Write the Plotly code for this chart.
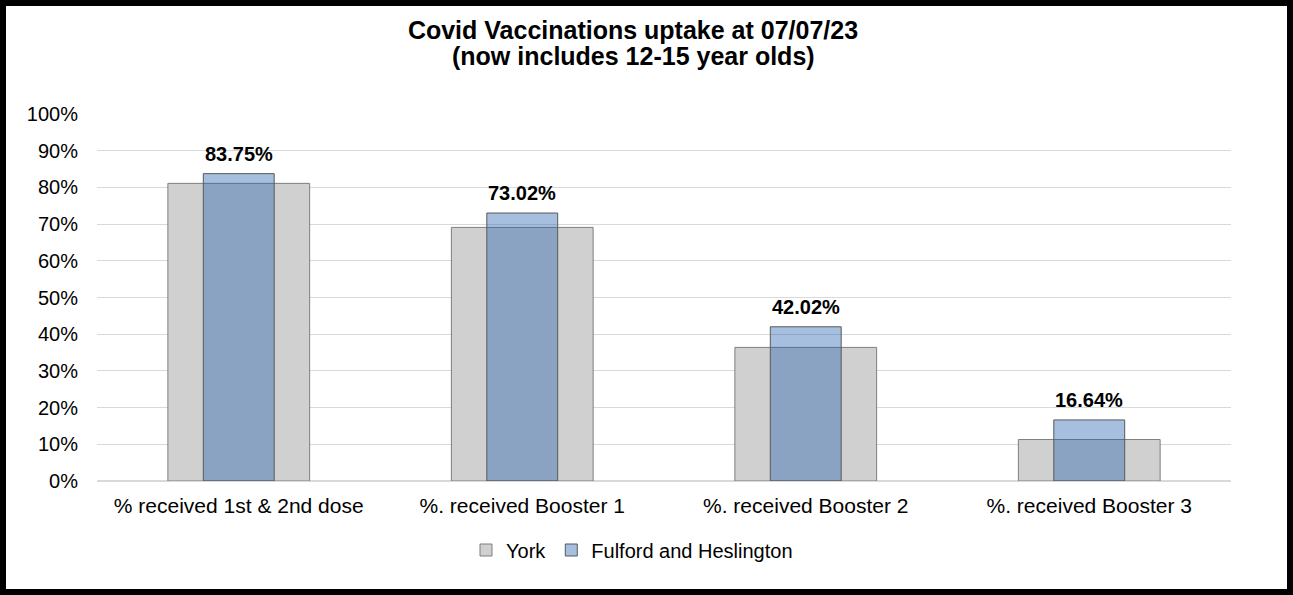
import plotly.graph_objects as go

categories = ["% received 1st & 2nd dose", "%. received Booster 1",
              "%. received Booster 2", "%. received Booster 3"]
york = [81.1, 69.1, 36.4, 11.3]
fulford = [83.75, 73.02, 42.02, 16.64]
fulford_labels = ["83.75%", "73.02%", "42.02%", "16.64%"]
y_ticks = list(range(0, 101, 10))
y_tick_labels = [f"{v}%" for v in y_ticks]
title_line1 = "Covid Vaccinations uptake at 07/07/23"
title_line2 = "(now includes 12-15 year olds)"

W, H = 1293, 595
ml, mr, mt, mb = 97, 62, 114, 114
pw, ph = W - ml - mr, H - mt - mb
title_cx = 633

fig = go.Figure()
fig.add_trace(go.Bar(
    x=categories, y=york, name="York", width=0.5,
    marker=dict(color="#d0d0d0", line=dict(color="#7f7f7f", width=1)),
    hoverinfo="skip",
))
fig.add_trace(go.Bar(
    x=categories, y=fulford, name="Fulford and Heslington", width=0.25,
    marker=dict(color="rgba(33,95,172,0.4)", line=dict(color="#595959", width=1)),
    hoverinfo="skip",
))

for c, v, t in zip(categories, fulford, fulford_labels):
    fig.add_annotation(x=c, y=v, xref="x", yref="y", text=f"<b>{t}</b>",
                       showarrow=False, yanchor="bottom", yshift=7,
                       font=dict(family="Liberation Sans, Arial", size=20, color="#000"))

# second title line
fig.add_annotation(x=(title_cx - ml) / pw, xref="paper", y=1 + (mt - 56) / ph, yref="paper",
                   xanchor="center", yanchor="middle", showarrow=False,
                   text=f"<b>{title_line2}</b>",
                   font=dict(family="Liberation Sans, Arial", size=25, color="#000"))

lw = 6
fig.add_shape(type="rect", xref="paper", yref="paper",
              x0=(-ml + lw / 2) / pw, x1=1 + (mr - lw / 2) / pw,
              y0=(-mb + lw / 2) / ph, y1=1 + (mt - lw / 2) / ph,
              line=dict(color="black", width=lw), fillcolor="rgba(0,0,0,0)")

fig.update_layout(
    width=W, height=H,
    margin=dict(l=ml, r=mr, t=mt, b=mb),
    barmode="overlay",
    paper_bgcolor="white", plot_bgcolor="white",
    font=dict(family="Liberation Sans, Arial", size=20, color="#000"),
    title=dict(
        text=f"<b>{title_line1}</b>",
        x=title_cx / W, xref="container", xanchor="center",
        y=1 - 30.5 / H, yanchor="middle",
        font=dict(size=25, color="#000"),
    ),
    xaxis=dict(showgrid=False, showline=False, ticks="", tickfont=dict(size=21),
               ticklabelstandoff=10),
    yaxis=dict(range=[0, 100], tickvals=y_ticks, ticktext=y_tick_labels,
               showgrid=True, gridcolor="#d9d9d9", gridwidth=1,
               zeroline=True, zerolinecolor="#d9d9d9", showline=False,
               ticks="", ticklabelstandoff=18, tickfont=dict(size=20)),
    legend=dict(orientation="h", x=(466 - ml) / pw, xanchor="left",
                y=-(550 - (H - mb)) / ph, yanchor="middle",
                font=dict(size=20), traceorder="normal",
                bgcolor="rgba(0,0,0,0)"),
    showlegend=True,
)

fig.write_html("out.html",
               post_script="document.body.style.margin='0';document.body.style.overflow='hidden';",
               config={"displayModeBar": False})
